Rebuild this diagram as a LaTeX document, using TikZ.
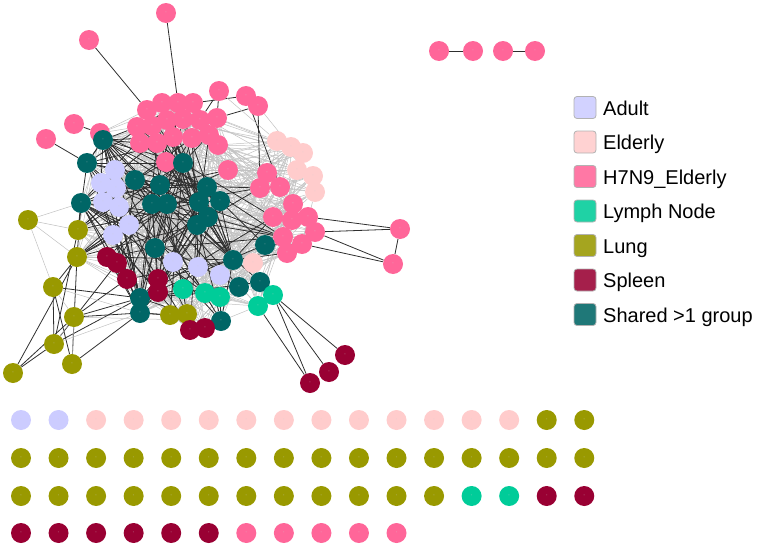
\documentclass[tikz,border=0pt]{standalone}
\usepackage{fontspec}
\setmainfont{Liberation Sans}
\pgfdeclarelayer{background}
\pgfsetlayers{background,main}
\definecolor{cAd}{RGB}{204,204,255}
\definecolor{cEl}{RGB}{255,204,204}
\definecolor{cHp}{RGB}{255,102,153}
\definecolor{cLy}{RGB}{0,204,153}
\definecolor{cLu}{RGB}{153,153,0}
\definecolor{cSp}{RGB}{153,0,51}
\definecolor{cSh}{RGB}{0,102,102}
\newcommand\nl{{\fontsize{4}{4}\selectfont\color{white!65!gray}-}}
\tikzset{
  nd/.style={circle,minimum size=20pt,inner sep=0pt,draw=none},
  ad/.style={nd,fill=cAd},
  el/.style={nd,fill=cEl},
  hp/.style={nd,fill=cHp},
  ly/.style={nd,fill=cLy},
  lu/.style={nd,fill=cLu},
  sp/.style={nd,fill=cSp},
  sh/.style={nd,fill=cSh},
  gedge/.style={draw=black!24,line width=0.5pt},
  bedge/.style={draw=black!82,line width=0.8pt},
  legsq/.style={rounded corners=3pt,draw=gray!60,line width=0.8pt,minimum size=22pt,inner sep=0pt},
  legtx/.style={anchor=base west,inner sep=0pt,font=\fontsize{20}{22}\selectfont}
}
\begin{document}
\begin{tikzpicture}[x=1pt,y=-1pt]
\useasboundingbox (0,0) rectangle (758,546);
% ---------- network nodes ----------
\foreach \n/\x/\y in {P6/147/110,P7/162/103,P8/178/103,P9/193/103,P10/217/118,P11/137/127,P12/152/126,P13/167/120,P14/183/119,P15/200/120,P16/140/143,P17/157/143,P18/173/137,P19/192/138,P20/209/135,P21/218/145,P22/166/162,P23/228/170,P26/100/133,
P27/267/173,P28/260/188,P29/280/187,P30/293/204,P31/273/217,P32/292/220,P33/308/217,P34/315/232,P35/283/237,P36/302/244,P37/287/253,
P1/166/13,P2/89/40,P3/219/91,P4/246/96,P5/258/106,P24/74/124,P25/46/139,P38/400/229,P39/393/264}
  \node[hp] (\n) at (\x,\y) {\nl};
\foreach \n/\x/\y in {E1/277/141,E2/291/147,E3/303/153,E4/297/170,E5/313/176,E6/315/192,E7/253/263}
  \node[el] (\n) at (\x,\y) {\nl};
\foreach \n/\x/\y in {A1/115/170,A2/101/183,A3/116/188,A4/103/202,A5/119/207,A6/129/225,A7/113/235,A8/173/262,A9/198/267,A10/220/275}
  \node[ad] (\n) at (\x,\y) {\nl};
\foreach \n/\x/\y in {S1/103/140,S2/87/163,S3/183/163,S4/135/180,S5/160/185,S6/207/187,S7/152/204,S8/167/204,S9/199/202,S10/220/201,S11/208/217,S12/197/225,S13/81/203,S14/155/248,S15/265/245,S16/233/260,S17/239/287,S18/260/282,S19/140/298,S20/140/313,S21/221/321}
  \node[sh] (\n) at (\x,\y) {\nl};
\foreach \n/\x/\y in {L1/183/289,L2/205/293,L3/220/297,L4/273/295,L5/258/306}
  \node[ly] (\n) at (\x,\y) {\nl};
\foreach \n/\x/\y in {U1/28/220,U2/78/230,U3/77/257,U4/53/287,U5/74/317,U6/54/344,U7/13/373,U8/72/364,U9/170/315,U10/187/314}
  \node[lu] (\n) at (\x,\y) {\nl};
\foreach \n/\x/\y in {R1/107/257,R2/117/263,R3/127/279,R4/158/279,R5/158/292,R6/190/330,R7/205/328,R8/345/355,R9/329/372,R10/310/383}
  \node[sp] (\n) at (\x,\y) {\nl};
\foreach \n/\x in {T1/439,T2/473,T3/503,T4/535}
  \node[hp] (\n) at (\x,51) {\nl};
% ---------- isolated nodes grid ----------
\foreach \i in {0,...,15}{
  \pgfmathsetmacro\gx{21+37.55*\i}
  \ifnum\i<2 \node[ad] (ga\i) at (\gx,420) {\nl};
  \else\ifnum\i<14 \node[el] (ga\i) at (\gx,420) {\nl};
  \else \node[lu] (ga\i) at (\gx,420) {\nl};\fi\fi
  \node[lu] (gb\i) at (\gx,458) {\nl};
  \ifnum\i<12 \node[lu] (gc\i) at (\gx,496) {\nl};
  \else\ifnum\i<14 \node[ly] (gc\i) at (\gx,496) {\nl};
  \else \node[sp] (gc\i) at (\gx,496) {\nl};\fi\fi
}
\foreach \i in {0,...,10}{
  \pgfmathsetmacro\gx{21+37.55*\i}
  \ifnum\i<6 \node[sp] (gd\i) at (\gx,533) {\nl};
  \else \node[hp] (gd\i) at (\gx,533) {\nl};\fi
}
% ---------- edges ----------
\def\coreall{P6,P7,P8,P9,P10,P11,P12,P13,P14,P15,P16,P17,P18,P19,P20,P21,P22,P23,P26,P27,P28,P29,P30,P31,P32,P33,P34,P35,P36,P37,E1,E2,E3,E4,E5,E6,E7,S1,S2,S3,S4,S5,S6,S7,S8,S9,S10,S11,S12,S13,S14,S15,S16,S17,S18,S19,S20,S21,A1,A2,A3,A4,A5,A6,A7,A8,A9,A10,L1,L2,L3,L5,R1,R2,R3,R4,R5,R6,R7,U2,U3,U9,U10}
\def\hubs{S1,S2,S3,S4,S5,S6,S7,S8,S9,S10,S11,S12,S13,S14,S16,S19,S20}
\def\btargets{P6,P7,P8,P11,P12,P13,P14,P16,P17,P18,P19,P20,P22,P23,P26,P28,P31,P35,S1,S2,S3,S4,S5,S6,S7,S8,S9,S10,S11,S12,S13,S14,S15,S16,S17,S18,S19,S20,S21,A1,A2,A3,A4,A5,A6,A7,A8,A9,A10,L1,L2,R1,R2,R3,R4,R5,R6,U2,U3,U9,U10}
\begin{pgfonlayer}{background}
\pgfmathsetseed{4217}
\foreach \a [count=\i] in \coreall {
  \foreach \b [count=\j] in \coreall {
    \ifnum\j>\i
      \pgfmathrandominteger{\r}{1}{1000}
      \ifnum\r<160 \draw[gedge] (\a) -- (\b);\fi
    \fi
  }
}
\foreach \a in \hubs {
  \foreach \b in \btargets {
    \pgfmathrandominteger{\r}{1}{1000}
    \ifnum\r<170 \draw[bedge] (\a) -- (\b);\fi
  }
}
% explicit edges
\foreach \a/\b in {P1/P8,P2/P6,P24/P26,P25/S2,P3/P10,P3/P15,P4/P9,P4/P29,P5/P10,P5/P28,
  P38/P33,P38/P34,P39/P34,P39/P36,P38/P39,
  R8/L4,R9/L4,R10/L4,R10/L5,T1/T2,T3/T4,
  U2/S13,U2/S4,U3/S13,U3/S7,U3/U4,U3/U8,U4/U6,U4/U8,U4/S19,U5/S19,U5/S20,U6/U7,U7/U5,U7/U3,U8/S20,U6/R2,U5/R3,U6/S19,U2/U6,
  S19/R4,S20/R5,S20/U9,S21/R7,S21/L3,P36/S15,P37/S16,E7/S15}
  \draw[bedge] (\a) -- (\b);
\foreach \a/\b in {U1/U2,U1/U3,U1/U4,U1/S13,U4/U5,U5/U6,U4/S20,U5/S21,U6/S20,U8/U5,
  E1/P10,E2/P21,E3/P23,E4/P27,E5/P29,E6/P30,E1/P3,E2/P5,E4/E6,E1/E5,
  P33/P27,P34/P30,P36/P31,P37/P32,L4/E7,L5/S18,L4/S17,S21/L5}
  \draw[gedge] (\a) -- (\b);
\end{pgfonlayer}
% ---------- legend ----------
\foreach \c/\t [count=\k from 0] in {cAd/Adult,cEl/Elderly,cHp/H7N9\_Elderly,cLy/Lymph Node,cLu/Lung,cSp/Spleen,cSh/Shared >1 group}{
  \node[legsq,fill=\c!88!white] (lg\k) at (585,107.5+34.5*\k) {};
  \node[legtx] (lt\k) at (603,115+34.5*\k) {\t};
}
\end{tikzpicture}
\end{document}
